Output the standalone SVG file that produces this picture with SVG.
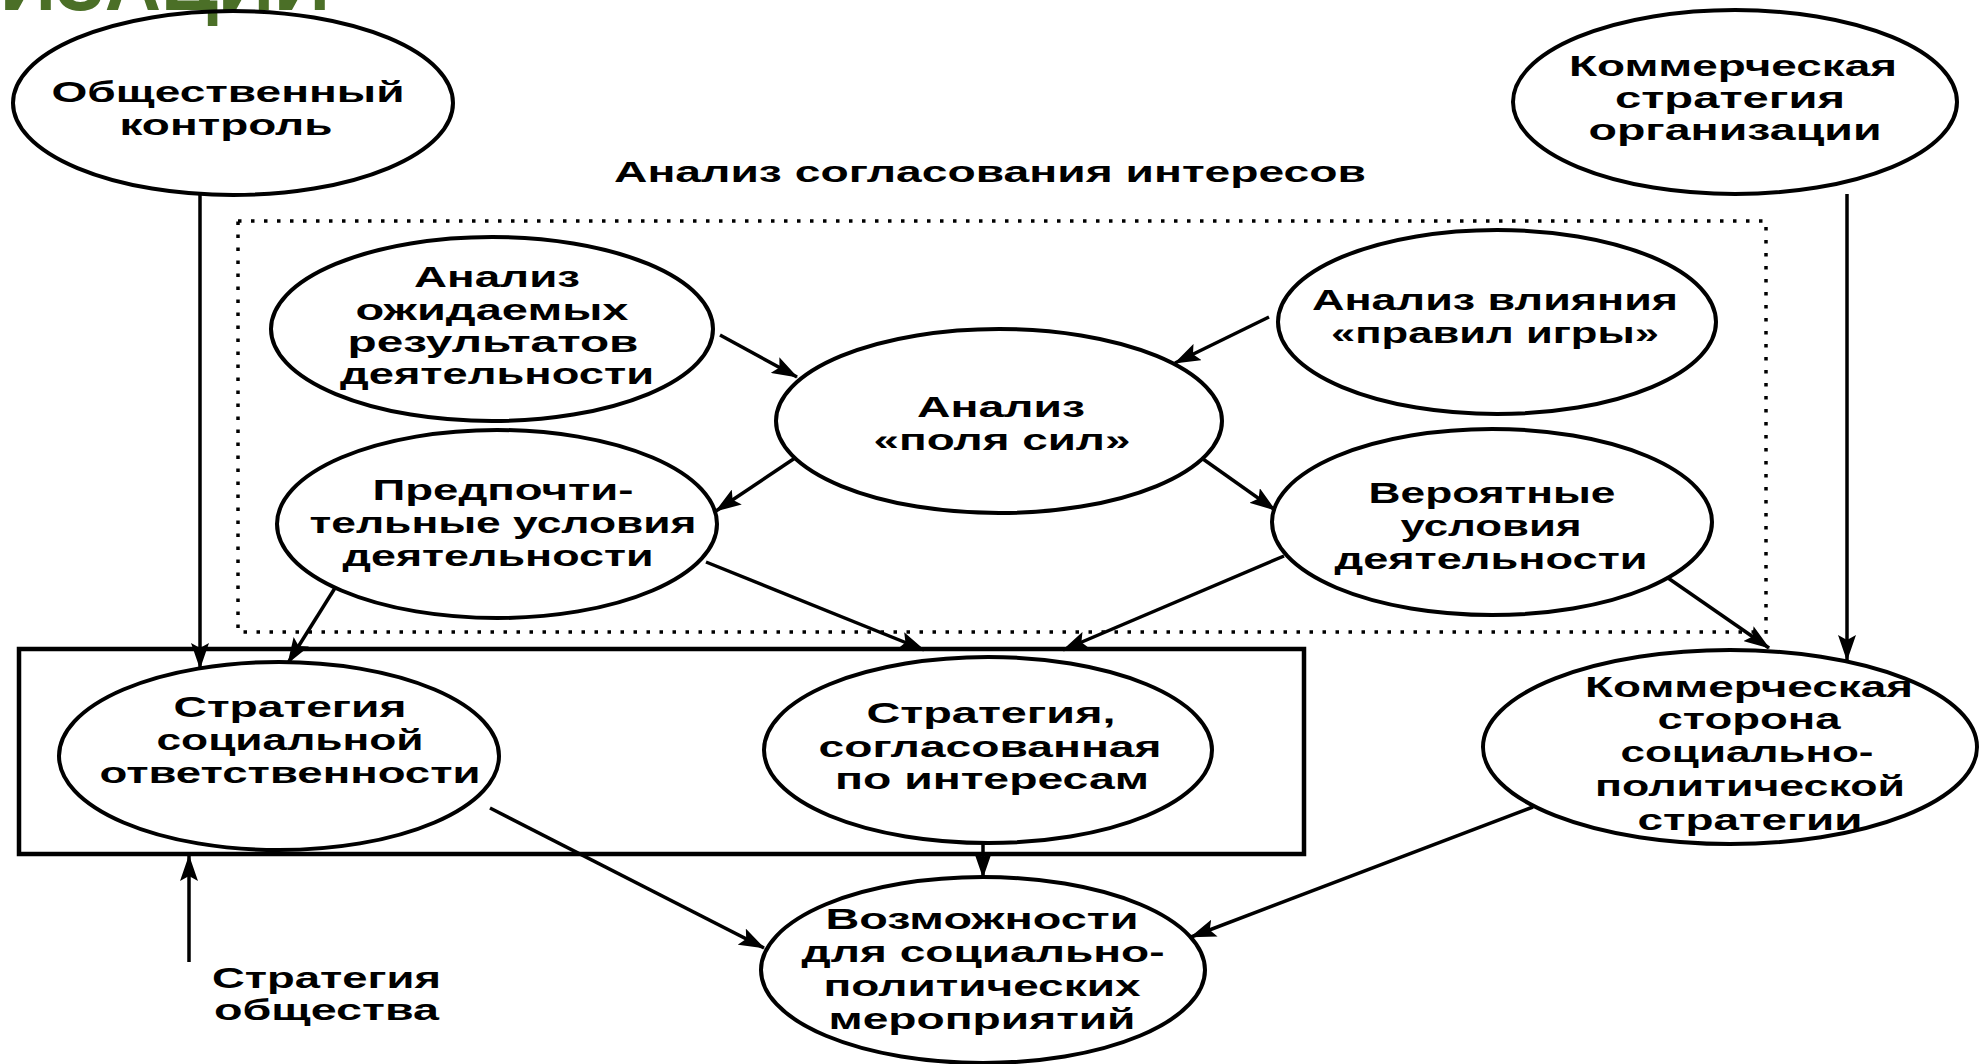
<svg xmlns="http://www.w3.org/2000/svg" width="1979" height="1064" viewBox="0 0 1979 1064">
<style>
.n{fill:none;stroke:#000;stroke-width:4}
.t{font-family:"Liberation Sans",Arial,sans-serif;font-weight:bold;font-size:30px;fill:#000;text-anchor:middle}
.c{fill:none;stroke:#000;stroke-width:3.5}
</style>
<defs>
<marker id="ah" viewBox="0 0 26 18" refX="25" refY="9" markerWidth="26" markerHeight="18" markerUnits="userSpaceOnUse" orient="auto">
<path d="M0,0 L26,9 L0,18 L5,9 z" fill="#000"/>
</marker>
</defs>
<rect width="1979" height="1064" fill="#fff"/>
<text x="0" y="10" font-family="Liberation Sans,Arial,sans-serif" font-weight="bold" font-size="80" fill="#4b6f27" textLength="330" lengthAdjust="spacingAndGlyphs">ИЗАЦИИ</text>

<g id="frame-analysis">
<rect x="238" y="221" width="1528" height="411" fill="none" stroke="#000" stroke-width="3.5" stroke-dasharray="3.5 9.5"/>
<text class="t" x="990" y="182" textLength="752" lengthAdjust="spacingAndGlyphs">Анализ согласования интересов</text>
</g>
<g id="frame-strategy">
<rect x="19" y="649" width="1285" height="205" fill="none" stroke="#000" stroke-width="4.5"/>
</g>

<g id="n-control">
<ellipse class="n" cx="233" cy="103" rx="220" ry="92"/>
<text class="t" x="228" y="102" textLength="353" lengthAdjust="spacingAndGlyphs">Общественный</text>
<text class="t" x="226" y="135" textLength="213" lengthAdjust="spacingAndGlyphs">контроль</text>
</g>
<g id="n-commerce-org">
<ellipse class="n" cx="1735" cy="102" rx="222" ry="92"/>
<text class="t" x="1733" y="76" textLength="328" lengthAdjust="spacingAndGlyphs">Коммерческая</text>
<text class="t" x="1730" y="108" textLength="230" lengthAdjust="spacingAndGlyphs">стратегия</text>
<text class="t" x="1735" y="140" textLength="293" lengthAdjust="spacingAndGlyphs">организации</text>
</g>
<g id="n-expected">
<ellipse class="n" cx="492" cy="329" rx="221" ry="92"/>
<text class="t" x="497" y="287" textLength="166" lengthAdjust="spacingAndGlyphs">Анализ</text>
<text class="t" x="492" y="320" textLength="273" lengthAdjust="spacingAndGlyphs">ожидаемых</text>
<text class="t" x="493" y="352" textLength="291" lengthAdjust="spacingAndGlyphs">результатов</text>
<text class="t" x="497" y="384" textLength="314" lengthAdjust="spacingAndGlyphs">деятельности</text>
</g>
<g id="n-forcefield">
<ellipse class="n" cx="999" cy="421" rx="223" ry="92"/>
<text class="t" x="1001" y="417" textLength="168" lengthAdjust="spacingAndGlyphs">Анализ</text>
<text class="t" x="1002" y="450" textLength="257" lengthAdjust="spacingAndGlyphs">«поля сил»</text>
</g>
<g id="n-rules">
<ellipse class="n" cx="1497" cy="322" rx="219" ry="92"/>
<text class="t" x="1495" y="310" textLength="366" lengthAdjust="spacingAndGlyphs">Анализ влияния</text>
<text class="t" x="1495" y="343" textLength="328" lengthAdjust="spacingAndGlyphs">«правил игры»</text>
</g>
<g id="n-preferred">
<ellipse class="n" cx="497" cy="524" rx="220" ry="94"/>
<text class="t" x="503" y="500" textLength="261" lengthAdjust="spacingAndGlyphs">Предпочти-</text>
<text class="t" x="503" y="533" textLength="387" lengthAdjust="spacingAndGlyphs">тельные условия</text>
<text class="t" x="498" y="566" textLength="311" lengthAdjust="spacingAndGlyphs">деятельности</text>
</g>
<g id="n-probable">
<ellipse class="n" cx="1492" cy="522" rx="220" ry="93"/>
<text class="t" x="1492" y="503" textLength="247" lengthAdjust="spacingAndGlyphs">Вероятные</text>
<text class="t" x="1491" y="536" textLength="181" lengthAdjust="spacingAndGlyphs">условия</text>
<text class="t" x="1491" y="569" textLength="313" lengthAdjust="spacingAndGlyphs">деятельности</text>
</g>
<g id="n-social">
<ellipse class="n" cx="279" cy="756" rx="220" ry="94"/>
<text class="t" x="290" y="717" textLength="233" lengthAdjust="spacingAndGlyphs">Стратегия</text>
<text class="t" x="290" y="750" textLength="267" lengthAdjust="spacingAndGlyphs">социальной</text>
<text class="t" x="290" y="783" textLength="381" lengthAdjust="spacingAndGlyphs">ответственности</text>
</g>
<g id="n-agreed">
<ellipse class="n" cx="988" cy="750" rx="224" ry="93"/>
<text class="t" x="991" y="723" textLength="249" lengthAdjust="spacingAndGlyphs">Стратегия,</text>
<text class="t" x="990" y="757" textLength="343" lengthAdjust="spacingAndGlyphs">согласованная</text>
<text class="t" x="992" y="789" textLength="314" lengthAdjust="spacingAndGlyphs">по интересам</text>
</g>
<g id="n-commerce-side">
<ellipse class="n" cx="1730" cy="747" rx="247" ry="97"/>
<text class="t" x="1749" y="697" textLength="328" lengthAdjust="spacingAndGlyphs">Коммерческая</text>
<text class="t" x="1749" y="729" textLength="183" lengthAdjust="spacingAndGlyphs">сторона</text>
<text class="t" x="1747" y="762" textLength="253" lengthAdjust="spacingAndGlyphs">социально-</text>
<text class="t" x="1750" y="796" textLength="310" lengthAdjust="spacingAndGlyphs">политической</text>
<text class="t" x="1750" y="830" textLength="225" lengthAdjust="spacingAndGlyphs">стратегии</text>
</g>
<g id="n-opportunities">
<ellipse class="n" cx="983" cy="970" rx="222" ry="93"/>
<text class="t" x="982" y="929" textLength="313" lengthAdjust="spacingAndGlyphs">Возможности</text>
<text class="t" x="983" y="962" textLength="363" lengthAdjust="spacingAndGlyphs">для социально-</text>
<text class="t" x="982" y="996" textLength="317" lengthAdjust="spacingAndGlyphs">политических</text>
<text class="t" x="982" y="1029" textLength="307" lengthAdjust="spacingAndGlyphs">мероприятий</text>
</g>
<g id="n-society">
<text class="t" x="212" y="988" style="text-anchor:start" textLength="229" lengthAdjust="spacingAndGlyphs">Стратегия</text>
<text class="t" x="214" y="1020" style="text-anchor:start" textLength="225" lengthAdjust="spacingAndGlyphs">общества</text>
</g>

<g id="connectors">
<line class="c" x1="200" y1="195" x2="200" y2="668" marker-end="url(#ah)"/>
<line class="c" x1="335" y1="588" x2="288" y2="663" marker-end="url(#ah)"/>
<line class="c" x1="706" y1="562" x2="924" y2="650" marker-end="url(#ah)"/>
<line class="c" x1="1284" y1="556" x2="1063" y2="650" marker-end="url(#ah)"/>
<line class="c" x1="1668" y1="578" x2="1769" y2="648" marker-end="url(#ah)"/>
<line class="c" x1="1847" y1="194" x2="1847" y2="660" marker-end="url(#ah)"/>
<line class="c" x1="720" y1="335" x2="797" y2="377" marker-end="url(#ah)"/>
<line class="c" x1="1269" y1="317" x2="1175" y2="363" marker-end="url(#ah)"/>
<line class="c" x1="795" y1="458" x2="716" y2="511" marker-end="url(#ah)"/>
<line class="c" x1="1203" y1="459" x2="1275" y2="510" marker-end="url(#ah)"/>
<line class="c" x1="490" y1="808" x2="764" y2="948" marker-end="url(#ah)"/>
<line class="c" x1="983" y1="843" x2="983" y2="877" marker-end="url(#ah)"/>
<line class="c" x1="1533" y1="807" x2="1191" y2="937" marker-end="url(#ah)"/>
<line class="c" x1="189" y1="962" x2="189" y2="856" marker-end="url(#ah)"/>
</g>
</svg>
